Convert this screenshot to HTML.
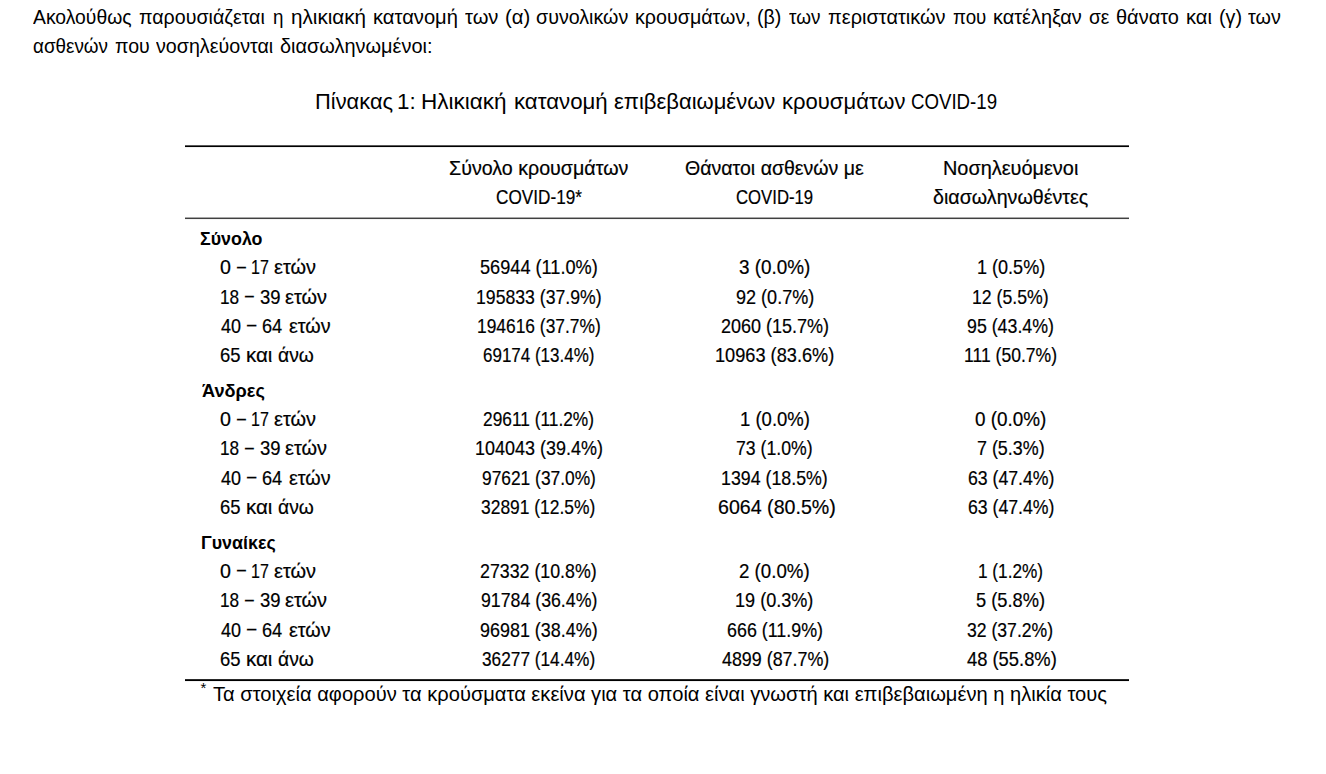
<!DOCTYPE html>
<html><head><meta charset="utf-8"><style>
html,body{margin:0;padding:0;background:#fff;}
body{width:1326px;height:774px;position:relative;overflow:hidden;font-family:"Liberation Sans", sans-serif;color:#000;}
.t{position:absolute;white-space:pre;transform-origin:0 0;}
.rule{position:absolute;left:185px;width:944px;background:#000;}
.sup{position:absolute;font-size:15px;line-height:15px;}
</style></head><body>
<div class="rule" style="top:145px;height:1px;background:#5a5a5a"></div>
<div class="rule" style="top:146px;height:1px;"></div>
<div class="rule" style="top:147px;height:1px;background:#f0f0f0"></div>
<div class="rule" style="top:217px;height:1px;background:#a8a8a8"></div>
<div class="rule" style="top:218px;height:1px;background:#404040"></div>
<div class="rule" style="top:219px;height:1px;background:#f4f4f4"></div>
<div class="rule" style="top:679px;height:1px;background:#2a2a2a"></div>
<div class="rule" style="top:680px;height:1px;"></div>
<div class="rule" style="top:681px;height:1px;background:#f2f2f2"></div>
<div class="sup" style="left:200.6px;top:679.80px">*</div>
<div class="t" style="left:448.90px;top:158.84px;font-size:19.80px;line-height:19.80px;font-weight:400;transform:scaleX(0.9933);-webkit-text-stroke:0.20px #000">Σύνολο κρουσμάτων</div>
<div class="t" style="left:495.81px;top:188.24px;font-size:19.80px;line-height:19.80px;font-weight:400;transform:scaleX(0.8685);-webkit-text-stroke:0.20px #000">COVID-19*</div>
<div class="t" style="left:685.43px;top:158.84px;font-size:19.80px;line-height:19.80px;font-weight:400;transform:scaleX(0.9876);-webkit-text-stroke:0.20px #000">Θάνατοι ασθενών με</div>
<div class="t" style="left:736.33px;top:188.24px;font-size:19.80px;line-height:19.80px;font-weight:400;transform:scaleX(0.8458);-webkit-text-stroke:0.20px #000">COVID-19</div>
<div class="t" style="left:942.73px;top:158.84px;font-size:19.80px;line-height:19.80px;font-weight:400;transform:scaleX(1.0058);-webkit-text-stroke:0.20px #000">Νοσηλευόμενοι</div>
<div class="t" style="left:933.08px;top:188.24px;font-size:19.80px;line-height:19.80px;font-weight:400;transform:scaleX(0.9942);-webkit-text-stroke:0.20px #000">διασωληνωθέντες</div>
<div class="t" style="left:200.26px;top:228.91px;font-size:19.00px;line-height:19.00px;font-weight:700;transform:scaleX(0.9386)">Σύνολο</div>
<div class="t" style="left:220.24px;top:258.34px;font-size:19.80px;line-height:19.80px;font-weight:400;transform:scaleX(0.9945);-webkit-text-stroke:0.20px #000">0</div>
<div class="t" style="left:236.88px;top:256.74px;font-size:19.80px;line-height:19.80px;font-weight:400;transform:scaleX(0.8088);-webkit-text-stroke:0.20px #000">–</div>
<div class="t" style="left:251.39px;top:258.34px;font-size:19.80px;line-height:19.80px;font-weight:400;transform:scaleX(0.8085);-webkit-text-stroke:0.20px #000">17</div>
<div class="t" style="left:274.08px;top:258.34px;font-size:19.80px;line-height:19.80px;font-weight:400;transform:scaleX(1.0075);-webkit-text-stroke:0.20px #000">ετών</div>
<div class="t" style="left:480.19px;top:258.34px;font-size:19.80px;line-height:19.80px;font-weight:400;transform:scaleX(0.9180);-webkit-text-stroke:0.20px #000">56944 (11.0%)</div>
<div class="t" style="left:738.99px;top:258.34px;font-size:19.80px;line-height:19.80px;font-weight:400;transform:scaleX(0.9552);-webkit-text-stroke:0.20px #000">3 (0.0%)</div>
<div class="t" style="left:976.69px;top:258.34px;font-size:19.80px;line-height:19.80px;font-weight:400;transform:scaleX(0.9119);-webkit-text-stroke:0.20px #000">1 (0.5%)</div>
<div class="t" style="left:220.13px;top:287.64px;font-size:19.80px;line-height:19.80px;font-weight:400;transform:scaleX(0.8691);-webkit-text-stroke:0.20px #000">18</div>
<div class="t" style="left:245.08px;top:286.04px;font-size:19.80px;line-height:19.80px;font-weight:400;transform:scaleX(0.7999);-webkit-text-stroke:0.20px #000">–</div>
<div class="t" style="left:259.50px;top:287.64px;font-size:19.80px;line-height:19.80px;font-weight:400;transform:scaleX(0.9342);-webkit-text-stroke:0.20px #000">39</div>
<div class="t" style="left:284.98px;top:287.64px;font-size:19.80px;line-height:19.80px;font-weight:400;transform:scaleX(1.0075);-webkit-text-stroke:0.20px #000">ετών</div>
<div class="t" style="left:476.01px;top:287.64px;font-size:19.80px;line-height:19.80px;font-weight:400;transform:scaleX(0.8926);-webkit-text-stroke:0.20px #000">195833 (37.9%)</div>
<div class="t" style="left:735.62px;top:287.64px;font-size:19.80px;line-height:19.80px;font-weight:400;transform:scaleX(0.9124);-webkit-text-stroke:0.20px #000">92 (0.7%)</div>
<div class="t" style="left:972.21px;top:287.64px;font-size:19.80px;line-height:19.80px;font-weight:400;transform:scaleX(0.8937);-webkit-text-stroke:0.20px #000">12 (5.5%)</div>
<div class="t" style="left:221.01px;top:316.94px;font-size:19.80px;line-height:19.80px;font-weight:400;transform:scaleX(0.9095);-webkit-text-stroke:0.20px #000">40</div>
<div class="t" style="left:247.28px;top:315.34px;font-size:19.80px;line-height:19.80px;font-weight:400;transform:scaleX(0.8444);-webkit-text-stroke:0.20px #000">–</div>
<div class="t" style="left:262.27px;top:316.94px;font-size:19.80px;line-height:19.80px;font-weight:400;transform:scaleX(0.9193);-webkit-text-stroke:0.20px #000">64</div>
<div class="t" style="left:288.58px;top:316.94px;font-size:19.80px;line-height:19.80px;font-weight:400;transform:scaleX(0.9976);-webkit-text-stroke:0.20px #000">ετών</div>
<div class="t" style="left:477.12px;top:316.94px;font-size:19.80px;line-height:19.80px;font-weight:400;transform:scaleX(0.8789);-webkit-text-stroke:0.20px #000">194616 (37.7%)</div>
<div class="t" style="left:720.68px;top:316.94px;font-size:19.80px;line-height:19.80px;font-weight:400;transform:scaleX(0.9102);-webkit-text-stroke:0.20px #000">2060 (15.7%)</div>
<div class="t" style="left:967.14px;top:316.94px;font-size:19.80px;line-height:19.80px;font-weight:400;transform:scaleX(0.8983);-webkit-text-stroke:0.20px #000">95 (43.4%)</div>
<div class="t" style="left:220.15px;top:346.24px;font-size:19.80px;line-height:19.80px;font-weight:400;transform:scaleX(0.9328);-webkit-text-stroke:0.20px #000">65</div>
<div class="t" style="left:245.78px;top:346.24px;font-size:19.80px;line-height:19.80px;font-weight:400;transform:scaleX(1.0360);-webkit-text-stroke:0.20px #000">και</div>
<div class="t" style="left:277.63px;top:346.24px;font-size:19.80px;line-height:19.80px;font-weight:400;transform:scaleX(0.9739);-webkit-text-stroke:0.20px #000">άνω</div>
<div class="t" style="left:483.22px;top:346.24px;font-size:19.80px;line-height:19.80px;font-weight:400;transform:scaleX(0.8586);-webkit-text-stroke:0.20px #000">69174 (13.4%)</div>
<div class="t" style="left:715.08px;top:346.24px;font-size:19.80px;line-height:19.80px;font-weight:400;transform:scaleX(0.9193);-webkit-text-stroke:0.20px #000">10963 (83.6%)</div>
<div class="t" style="left:964.12px;top:346.24px;font-size:19.80px;line-height:19.80px;font-weight:400;transform:scaleX(0.8871);-webkit-text-stroke:0.20px #000">111 (50.7%)</div>
<div class="t" style="left:201.61px;top:380.71px;font-size:19.00px;line-height:19.00px;font-weight:700;transform:scaleX(0.9571)">Άνδρες</div>
<div class="t" style="left:220.24px;top:410.14px;font-size:19.80px;line-height:19.80px;font-weight:400;transform:scaleX(0.9945);-webkit-text-stroke:0.20px #000">0</div>
<div class="t" style="left:236.88px;top:408.54px;font-size:19.80px;line-height:19.80px;font-weight:400;transform:scaleX(0.8088);-webkit-text-stroke:0.20px #000">–</div>
<div class="t" style="left:251.39px;top:410.14px;font-size:19.80px;line-height:19.80px;font-weight:400;transform:scaleX(0.8085);-webkit-text-stroke:0.20px #000">17</div>
<div class="t" style="left:274.08px;top:410.14px;font-size:19.80px;line-height:19.80px;font-weight:400;transform:scaleX(1.0075);-webkit-text-stroke:0.20px #000">ετών</div>
<div class="t" style="left:482.81px;top:410.14px;font-size:19.80px;line-height:19.80px;font-weight:400;transform:scaleX(0.8751);-webkit-text-stroke:0.20px #000">29611 (11.2%)</div>
<div class="t" style="left:739.97px;top:410.14px;font-size:19.80px;line-height:19.80px;font-weight:400;transform:scaleX(0.9352);-webkit-text-stroke:0.20px #000">1 (0.0%)</div>
<div class="t" style="left:975.37px;top:410.14px;font-size:19.80px;line-height:19.80px;font-weight:400;transform:scaleX(0.9542);-webkit-text-stroke:0.20px #000">0 (0.0%)</div>
<div class="t" style="left:220.13px;top:439.44px;font-size:19.80px;line-height:19.80px;font-weight:400;transform:scaleX(0.8691);-webkit-text-stroke:0.20px #000">18</div>
<div class="t" style="left:245.08px;top:437.84px;font-size:19.80px;line-height:19.80px;font-weight:400;transform:scaleX(0.7999);-webkit-text-stroke:0.20px #000">–</div>
<div class="t" style="left:259.50px;top:439.44px;font-size:19.80px;line-height:19.80px;font-weight:400;transform:scaleX(0.9342);-webkit-text-stroke:0.20px #000">39</div>
<div class="t" style="left:284.98px;top:439.44px;font-size:19.80px;line-height:19.80px;font-weight:400;transform:scaleX(1.0075);-webkit-text-stroke:0.20px #000">ετών</div>
<div class="t" style="left:474.80px;top:439.44px;font-size:19.80px;line-height:19.80px;font-weight:400;transform:scaleX(0.9084);-webkit-text-stroke:0.20px #000">104043 (39.4%)</div>
<div class="t" style="left:736.29px;top:439.44px;font-size:19.80px;line-height:19.80px;font-weight:400;transform:scaleX(0.8928);-webkit-text-stroke:0.20px #000">73 (1.0%)</div>
<div class="t" style="left:976.78px;top:439.44px;font-size:19.80px;line-height:19.80px;font-weight:400;transform:scaleX(0.9040);-webkit-text-stroke:0.20px #000">7 (5.3%)</div>
<div class="t" style="left:221.01px;top:468.74px;font-size:19.80px;line-height:19.80px;font-weight:400;transform:scaleX(0.9095);-webkit-text-stroke:0.20px #000">40</div>
<div class="t" style="left:247.28px;top:467.14px;font-size:19.80px;line-height:19.80px;font-weight:400;transform:scaleX(0.8444);-webkit-text-stroke:0.20px #000">–</div>
<div class="t" style="left:262.27px;top:468.74px;font-size:19.80px;line-height:19.80px;font-weight:400;transform:scaleX(0.9193);-webkit-text-stroke:0.20px #000">64</div>
<div class="t" style="left:288.58px;top:468.74px;font-size:19.80px;line-height:19.80px;font-weight:400;transform:scaleX(0.9976);-webkit-text-stroke:0.20px #000">ετών</div>
<div class="t" style="left:481.75px;top:468.74px;font-size:19.80px;line-height:19.80px;font-weight:400;transform:scaleX(0.8777);-webkit-text-stroke:0.20px #000">97621 (37.0%)</div>
<div class="t" style="left:721.40px;top:468.74px;font-size:19.80px;line-height:19.80px;font-weight:400;transform:scaleX(0.8989);-webkit-text-stroke:0.20px #000">1394 (18.5%)</div>
<div class="t" style="left:967.59px;top:468.74px;font-size:19.80px;line-height:19.80px;font-weight:400;transform:scaleX(0.8936);-webkit-text-stroke:0.20px #000">63 (47.4%)</div>
<div class="t" style="left:220.15px;top:498.04px;font-size:19.80px;line-height:19.80px;font-weight:400;transform:scaleX(0.9328);-webkit-text-stroke:0.20px #000">65</div>
<div class="t" style="left:245.78px;top:498.04px;font-size:19.80px;line-height:19.80px;font-weight:400;transform:scaleX(1.0360);-webkit-text-stroke:0.20px #000">και</div>
<div class="t" style="left:277.63px;top:498.04px;font-size:19.80px;line-height:19.80px;font-weight:400;transform:scaleX(0.9739);-webkit-text-stroke:0.20px #000">άνω</div>
<div class="t" style="left:481.35px;top:498.04px;font-size:19.80px;line-height:19.80px;font-weight:400;transform:scaleX(0.8808);-webkit-text-stroke:0.20px #000">32891 (12.5%)</div>
<div class="t" style="left:718.40px;top:498.04px;font-size:19.80px;line-height:19.80px;font-weight:400;transform:scaleX(0.9921);-webkit-text-stroke:0.20px #000">6064 (80.5%)</div>
<div class="t" style="left:967.59px;top:498.04px;font-size:19.80px;line-height:19.80px;font-weight:400;transform:scaleX(0.8936);-webkit-text-stroke:0.20px #000">63 (47.4%)</div>
<div class="t" style="left:200.69px;top:532.61px;font-size:19.00px;line-height:19.00px;font-weight:700;transform:scaleX(0.9391)">Γυναίκες</div>
<div class="t" style="left:220.24px;top:562.04px;font-size:19.80px;line-height:19.80px;font-weight:400;transform:scaleX(0.9945);-webkit-text-stroke:0.20px #000">0</div>
<div class="t" style="left:236.88px;top:560.44px;font-size:19.80px;line-height:19.80px;font-weight:400;transform:scaleX(0.8088);-webkit-text-stroke:0.20px #000">–</div>
<div class="t" style="left:251.39px;top:562.04px;font-size:19.80px;line-height:19.80px;font-weight:400;transform:scaleX(0.8085);-webkit-text-stroke:0.20px #000">17</div>
<div class="t" style="left:274.08px;top:562.04px;font-size:19.80px;line-height:19.80px;font-weight:400;transform:scaleX(1.0075);-webkit-text-stroke:0.20px #000">ετών</div>
<div class="t" style="left:480.49px;top:562.04px;font-size:19.80px;line-height:19.80px;font-weight:400;transform:scaleX(0.8991);-webkit-text-stroke:0.20px #000">27332 (10.8%)</div>
<div class="t" style="left:739.24px;top:562.04px;font-size:19.80px;line-height:19.80px;font-weight:400;transform:scaleX(0.9450);-webkit-text-stroke:0.20px #000">2 (0.0%)</div>
<div class="t" style="left:978.23px;top:562.04px;font-size:19.80px;line-height:19.80px;font-weight:400;transform:scaleX(0.8709);-webkit-text-stroke:0.20px #000">1 (1.2%)</div>
<div class="t" style="left:220.13px;top:591.34px;font-size:19.80px;line-height:19.80px;font-weight:400;transform:scaleX(0.8691);-webkit-text-stroke:0.20px #000">18</div>
<div class="t" style="left:245.08px;top:589.74px;font-size:19.80px;line-height:19.80px;font-weight:400;transform:scaleX(0.7999);-webkit-text-stroke:0.20px #000">–</div>
<div class="t" style="left:259.50px;top:591.34px;font-size:19.80px;line-height:19.80px;font-weight:400;transform:scaleX(0.9342);-webkit-text-stroke:0.20px #000">39</div>
<div class="t" style="left:284.98px;top:591.34px;font-size:19.80px;line-height:19.80px;font-weight:400;transform:scaleX(1.0075);-webkit-text-stroke:0.20px #000">ετών</div>
<div class="t" style="left:480.84px;top:591.34px;font-size:19.80px;line-height:19.80px;font-weight:400;transform:scaleX(0.8964);-webkit-text-stroke:0.20px #000">91784 (36.4%)</div>
<div class="t" style="left:735.49px;top:591.34px;font-size:19.80px;line-height:19.80px;font-weight:400;transform:scaleX(0.9139);-webkit-text-stroke:0.20px #000">19 (0.3%)</div>
<div class="t" style="left:976.08px;top:591.34px;font-size:19.80px;line-height:19.80px;font-weight:400;transform:scaleX(0.9242);-webkit-text-stroke:0.20px #000">5 (5.8%)</div>
<div class="t" style="left:221.01px;top:620.64px;font-size:19.80px;line-height:19.80px;font-weight:400;transform:scaleX(0.9095);-webkit-text-stroke:0.20px #000">40</div>
<div class="t" style="left:247.28px;top:619.04px;font-size:19.80px;line-height:19.80px;font-weight:400;transform:scaleX(0.8444);-webkit-text-stroke:0.20px #000">–</div>
<div class="t" style="left:262.27px;top:620.64px;font-size:19.80px;line-height:19.80px;font-weight:400;transform:scaleX(0.9193);-webkit-text-stroke:0.20px #000">64</div>
<div class="t" style="left:288.58px;top:620.64px;font-size:19.80px;line-height:19.80px;font-weight:400;transform:scaleX(0.9976);-webkit-text-stroke:0.20px #000">ετών</div>
<div class="t" style="left:480.23px;top:620.64px;font-size:19.80px;line-height:19.80px;font-weight:400;transform:scaleX(0.9066);-webkit-text-stroke:0.20px #000">96981 (38.4%)</div>
<div class="t" style="left:726.68px;top:620.64px;font-size:19.80px;line-height:19.80px;font-weight:400;transform:scaleX(0.9038);-webkit-text-stroke:0.20px #000">666 (11.9%)</div>
<div class="t" style="left:967.14px;top:620.64px;font-size:19.80px;line-height:19.80px;font-weight:400;transform:scaleX(0.8899);-webkit-text-stroke:0.20px #000">32 (37.2%)</div>
<div class="t" style="left:220.15px;top:649.94px;font-size:19.80px;line-height:19.80px;font-weight:400;transform:scaleX(0.9328);-webkit-text-stroke:0.20px #000">65</div>
<div class="t" style="left:245.78px;top:649.94px;font-size:19.80px;line-height:19.80px;font-weight:400;transform:scaleX(1.0360);-webkit-text-stroke:0.20px #000">και</div>
<div class="t" style="left:277.63px;top:649.94px;font-size:19.80px;line-height:19.80px;font-weight:400;transform:scaleX(0.9739);-webkit-text-stroke:0.20px #000">άνω</div>
<div class="t" style="left:482.06px;top:649.94px;font-size:19.80px;line-height:19.80px;font-weight:400;transform:scaleX(0.8722);-webkit-text-stroke:0.20px #000">36277 (14.4%)</div>
<div class="t" style="left:721.51px;top:649.94px;font-size:19.80px;line-height:19.80px;font-weight:400;transform:scaleX(0.9031);-webkit-text-stroke:0.20px #000">4899 (87.7%)</div>
<div class="t" style="left:966.51px;top:649.94px;font-size:19.80px;line-height:19.80px;font-weight:400;transform:scaleX(0.9278);-webkit-text-stroke:0.20px #000">48 (55.8%)</div>
<div class="t" style="left:315.41px;top:91.80px;font-size:21.50px;line-height:21.50px;font-weight:400;transform:scaleX(1.0170)">Πίνακας</div>
<div class="t" style="left:396.87px;top:91.80px;font-size:21.50px;line-height:21.50px;font-weight:400;transform:scaleX(1.0401)">1:</div>
<div class="t" style="left:421.25px;top:91.80px;font-size:21.50px;line-height:21.50px;font-weight:400;transform:scaleX(1.0475)">Ηλικιακή</div>
<div class="t" style="left:513.67px;top:91.80px;font-size:21.50px;line-height:21.50px;font-weight:400;transform:scaleX(1.0347)">κατανομή</div>
<div class="t" style="left:613.72px;top:91.80px;font-size:21.50px;line-height:21.50px;font-weight:400;transform:scaleX(1.0225)">επιβεβαιωμένων</div>
<div class="t" style="left:781.78px;top:91.80px;font-size:21.50px;line-height:21.50px;font-weight:400;transform:scaleX(1.0248)">κρουσμάτων</div>
<div class="t" style="left:911.49px;top:91.80px;font-size:21.50px;line-height:21.50px;font-weight:400;transform:scaleX(0.8679)">COVID-19</div>
<div class="t" style="left:213.11px;top:683.97px;font-size:20.00px;line-height:20.00px;font-weight:400;transform:scaleX(1.0055)">Τα στοιχεία αφορούν τα κρούσματα εκείνα για τα οποία είναι γνωστή και επιβεβαιωμένη η ηλικία τους</div>
<div class="t" style="left:33.34px;top:36.52px;font-size:19.70px;line-height:19.70px;font-weight:400;transform:scaleX(0.9569)">ασθενών</div>
<div class="t" style="left:114.61px;top:36.52px;font-size:19.70px;line-height:19.70px;font-weight:400;transform:scaleX(0.9935)">που</div>
<div class="t" style="left:156.16px;top:36.52px;font-size:19.70px;line-height:19.70px;font-weight:400;transform:scaleX(0.9993)">νοσηλεύονται</div>
<div class="t" style="left:279.76px;top:36.52px;font-size:19.70px;line-height:19.70px;font-weight:400;transform:scaleX(1.0120)">διασωληνωμένοι:</div>
<div class="t" style="left:33.04px;top:7.62px;font-size:19.70px;line-height:19.70px;font-weight:400;transform:scaleX(0.9816)">Ακολούθως</div>
<div class="t" style="left:139.21px;top:7.62px;font-size:19.70px;line-height:19.70px;font-weight:400;transform:scaleX(0.9967)">παρουσιάζεται</div>
<div class="t" style="left:273.31px;top:7.62px;font-size:19.70px;line-height:19.70px;font-weight:400;transform:scaleX(0.9554)">η</div>
<div class="t" style="left:291.12px;top:7.62px;font-size:19.70px;line-height:19.70px;font-weight:400;transform:scaleX(1.0496)">ηλικιακή</div>
<div class="t" style="left:373.19px;top:7.62px;font-size:19.70px;line-height:19.70px;font-weight:400;transform:scaleX(1.0240)">κατανομή</div>
<div class="t" style="left:464.61px;top:7.62px;font-size:19.70px;line-height:19.70px;font-weight:400;transform:scaleX(1.0214)">των</div>
<div class="t" style="left:504.51px;top:7.62px;font-size:19.70px;line-height:19.70px;font-weight:400;transform:scaleX(1.0289)">(α)</div>
<div class="t" style="left:535.90px;top:7.62px;font-size:19.70px;line-height:19.70px;font-weight:400;transform:scaleX(0.9987)">συνολικών</div>
<div class="t" style="left:635.22px;top:7.62px;font-size:19.70px;line-height:19.70px;font-weight:400;transform:scaleX(0.9994)">κρουσμάτων,</div>
<div class="t" style="left:757.04px;top:7.62px;font-size:19.70px;line-height:19.70px;font-weight:400;transform:scaleX(0.9985)">(β)</div>
<div class="t" style="left:789.31px;top:7.62px;font-size:19.70px;line-height:19.70px;font-weight:400;transform:scaleX(0.9622)">των</div>
<div class="t" style="left:828.40px;top:7.62px;font-size:19.70px;line-height:19.70px;font-weight:400;transform:scaleX(1.0138)">περιστατικών</div>
<div class="t" style="left:952.85px;top:7.62px;font-size:19.70px;line-height:19.70px;font-weight:400;transform:scaleX(0.9516)">που</div>
<div class="t" style="left:992.60px;top:7.62px;font-size:19.70px;line-height:19.70px;font-weight:400;transform:scaleX(1.0112)">κατέληξαν</div>
<div class="t" style="left:1088.52px;top:7.62px;font-size:19.70px;line-height:19.70px;font-weight:400;transform:scaleX(0.9749)">σε</div>
<div class="t" style="left:1115.78px;top:7.62px;font-size:19.70px;line-height:19.70px;font-weight:400;transform:scaleX(1.0143)">θάνατο</div>
<div class="t" style="left:1186.00px;top:7.62px;font-size:19.70px;line-height:19.70px;font-weight:400;transform:scaleX(1.0193)">και</div>
<div class="t" style="left:1218.83px;top:7.62px;font-size:19.70px;line-height:19.70px;font-weight:400;transform:scaleX(1.0043)">(γ)</div>
<div class="t" style="left:1247.91px;top:7.62px;font-size:19.70px;line-height:19.70px;font-weight:400;transform:scaleX(1.0027)">των</div>
</body></html>
